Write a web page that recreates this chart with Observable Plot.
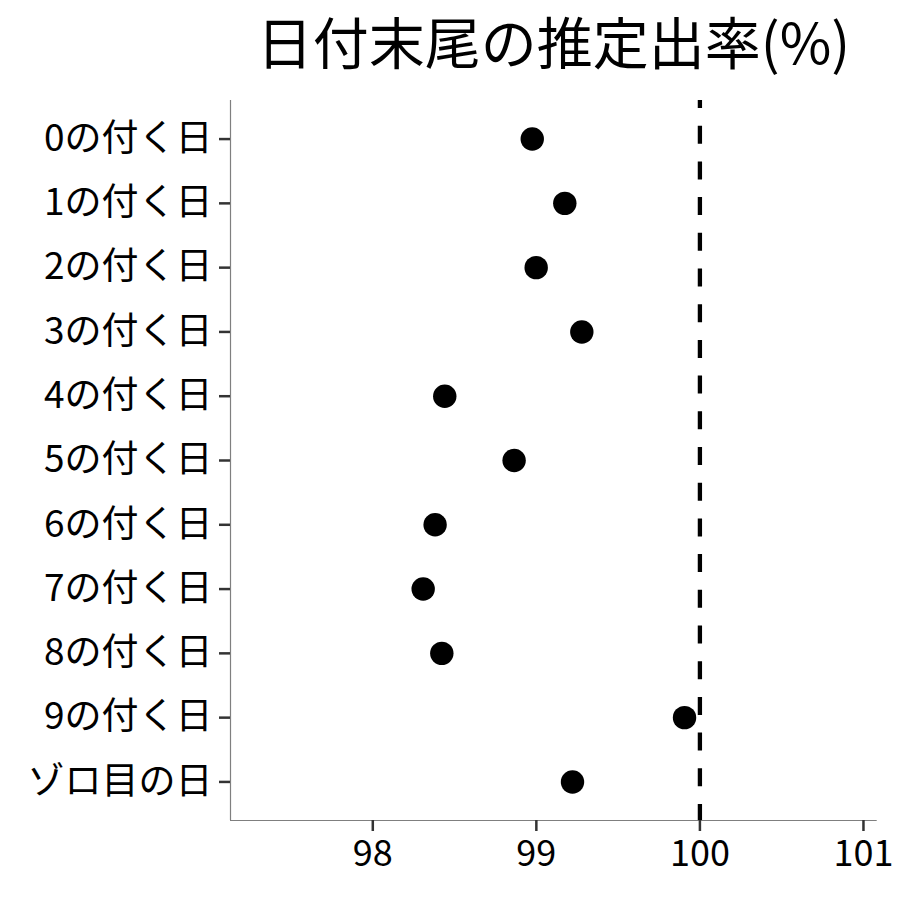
<!DOCTYPE html>
<html>
<head>
<meta charset="utf-8">
<script src="https://cdn.jsdelivr.net/npm/d3@7"></script>
<script src="https://cdn.jsdelivr.net/npm/@observablehq/plot@0.6"></script>
<style>
  body { margin: 0; background: #fff; }
  #wrap { width: 900px; height: 900px; position: relative; font-family: "Noto Sans CJK JP", "Noto Sans", sans-serif; }
  #title { position: absolute; left: 226px; width: 655px; top: 0; height: 90px; line-height: 90px; text-align: center; font-size: 56px; color: #000; margin-top: -5px; }
  #chart { position: absolute; left: 0; top: 90px; }
</style>
</head>
<body>
<div id="wrap">
  <div id="title">日付末尾の推定出率(%)</div>
  <div id="chart"></div>
</div>
<script>
const titleText = "日付末尾の推定出率(%)";
const categories = ["0の付く日","1の付く日","2の付く日","3の付く日","4の付く日","5の付く日","6の付く日","7の付く日","8の付く日","9の付く日","ゾロ目の日"];
const rates = [98.975, 99.174, 98.999, 99.278, 98.440, 98.864, 98.381, 98.308, 98.422, 99.906, 99.221];
const xTicks = [98, 99, 100, 101];
const xDomain = [97.13, 101.084];
const refValue = 100;

const data = categories.map((c, i) => ({cat: c, idx: i, rate: rates[i]}));

const chart = Plot.plot({
  width: 900,
  height: 810,
  marginTop: 10,
  marginBottom: 80,
  marginLeft: 230,
  marginRight: 23.3,
  style: {fontFamily: "'Noto Sans CJK JP', 'Noto Sans', sans-serif", background: "#fff", color: "#000"},
  x: {domain: xDomain, axis: null},
  y: {domain: [-0.6, categories.length - 1 + 0.6], reverse: true, axis: null},
  marks: [
    Plot.ruleX([xDomain[0]], {stroke: "#7f7f7f", strokeWidth: 1.2}),
    Plot.ruleY([categories.length - 1 + 0.6], {stroke: "#7f7f7f", strokeWidth: 1.2}),
    Plot.axisY({ticks: d3.range(categories.length), tickFormat: i => categories[i], label: null, tickSize: 11, tickPadding: 7, stroke: "#333", strokeWidth: 2.5, fill: "#000", fontSize: 37}),
    Plot.axisX({ticks: xTicks, tickFormat: d => String(d), label: null, tickSize: 11, tickPadding: 9, stroke: "#333", strokeWidth: 2.5, fill: "#000", fontSize: 36}),
    Plot.ruleX([refValue], {stroke: "#000", strokeWidth: 4.3, strokeDasharray: "18,17.7", strokeDashoffset: 10}),
    Plot.dot(data, {x: "rate", y: "idx", r: 11.7, fill: "#000", stroke: "none"})
  ]
});
document.getElementById("chart").appendChild(chart);
</script>
</body>
</html>
